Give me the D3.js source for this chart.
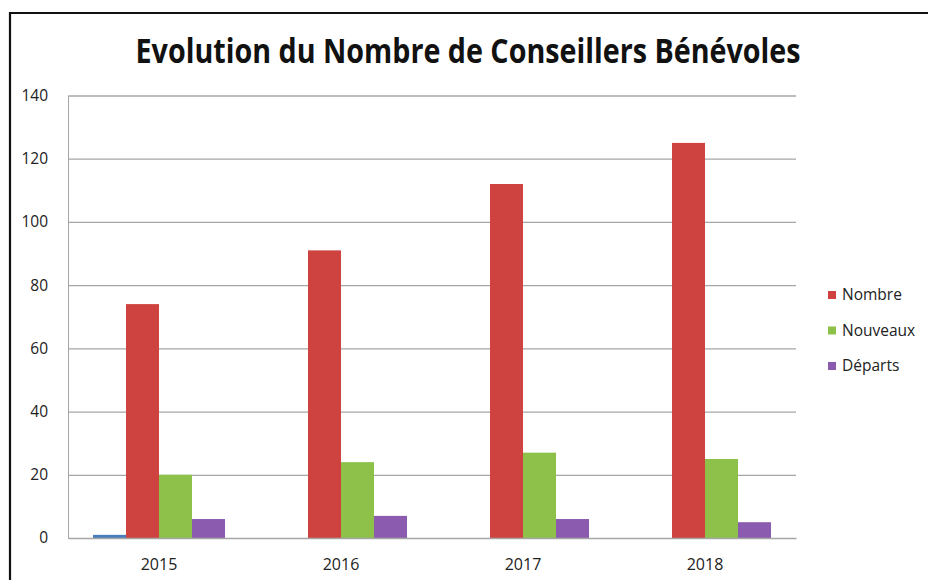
<!DOCTYPE html>
<html><head><meta charset="utf-8">
<script src="https://cdn.jsdelivr.net/npm/d3@7"></script>
<style>body{margin:0;background:#fff}svg{display:block}text{font-family:"Open Sans",sans-serif}</style>
</head><body>
<svg id="c" width="928" height="580"></svg>
<script>
const title = "Evolution du Nombre de Conseillers Bénévoles";
const years = ["2015","2016","2017","2018"];
const seriesNames = ["Série 1","Nombre","Nouveaux","Départs"];
const legendNames = ["Nombre","Nouveaux","Départs"];
const serie1 = [1,0,0,0];
const nombre = [74,91,112,125];
const nouveaux = [20,24,27,25];
const departs = [6,7,6,5];
const yTicks = [0,20,40,60,80,100,120,140];
const colors = ["#4a7ebb","#ce4340","#8dc149","#8a5bae"];

const values = [serie1, nombre, nouveaux, departs];
const svg = d3.select("#c");
const m = {left:68, right:796, top:95.5, bottom:538};

// frame
svg.append("path").attr("d", d3.line()([[10,600],[10,13],[940,13]]))
  .attr("fill","none").attr("stroke","#111").attr("stroke-width",2.2);

const x0 = d3.scaleBand().domain(years).range([m.left, m.right]).paddingInner(0.2747).paddingOuter(0.1374);
const x1 = d3.scaleBand().domain(seriesNames).range([0, x0.bandwidth()]);
const y = d3.scaleLinear().domain([0,140]).range([m.bottom, m.top]);

// gridlines
const yAxis = d3.axisLeft(y).tickValues(yTicks).tickSize(-(m.right-m.left)).tickPadding(20);
const gy = svg.append("g").attr("transform",`translate(${m.left},0)`).call(yAxis);
gy.select(".domain").attr("stroke","#a6a6a6");
gy.selectAll(".tick line").attr("stroke","#a6a6a6").attr("stroke-width",1.2);
gy.selectAll(".tick text").attr("font-size",15.5).attr("fill","#222").attr("font-family","Open Sans");

// bars
years.forEach((yr,i)=>{
  const g = svg.append("g").attr("transform",`translate(${x0(yr)},0)`);
  seriesNames.forEach((s,j)=>{
    const v = values[j][i];
    if (v <= 0) return;
    g.append("rect").attr("x", x1(s)).attr("width", x1.bandwidth())
      .attr("y", y(v)).attr("height", y(0)-y(v)).attr("fill", colors[j]);
  });
});

// x axis
const xAxis = d3.axisBottom(x0).tickSize(0).tickPadding(21);
const gx = svg.append("g").attr("transform",`translate(0,${m.bottom})`).call(xAxis);
gx.select(".domain").attr("stroke","#a6a6a6").attr("stroke-width",1.5);
gx.selectAll(".tick text").attr("font-size",16).attr("fill","#222").attr("font-family","Open Sans");

// title (slightly stretched vertically to mimic a condensed face)
const tg = svg.append("g").attr("transform","translate(468,63) scale(1,1.18)");
const t = tg.append("text").attr("x",0).attr("y",0).attr("text-anchor","middle")
  .attr("font-family","Lato").attr("font-weight","bold").attr("font-size",30).attr("fill","#111").text(title);
const w = t.node().getComputedTextLength();
t.attr("font-size", 30*665/w);

// legend
const lg = svg.append("g");
legendNames.forEach((n,i)=>{
  const cy = 295 + i*35.5;
  lg.append("rect").attr("x",828).attr("y",cy-4).attr("width",8).attr("height",8).attr("fill",colors[i+1]);
  lg.append("text").attr("x",842).attr("y",cy).attr("dy","0.35em").attr("font-size",15.5).attr("fill","#222").text(n);
});
</script>
</body></html>
